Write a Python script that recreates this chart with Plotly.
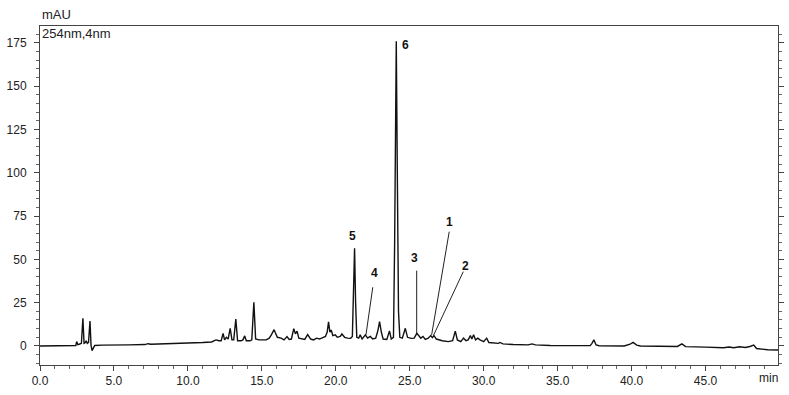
import plotly.graph_objects as go

# Chromatogram vertices (time in min, signal in mAU)
time_min = [
    0.0, 2.3, 2.42, 2.48, 2.56, 2.65, 2.8, 2.9, 2.98, 3.05, 3.12, 3.2, 3.28, 3.38, 3.45, 3.52, 3.6, 3.7,
    4.2, 5.0, 6.0, 7.1, 7.3, 7.5, 8.5, 9.5, 10.2, 11.0, 11.6, 11.9, 12.1, 12.25, 12.38, 12.48, 12.6,
    12.72, 12.86, 12.98, 13.1, 13.24, 13.36, 13.6, 13.72, 13.84, 13.95, 14.2, 14.32, 14.46, 14.58,
    14.8, 15.3, 15.5, 15.65, 15.83, 15.92, 16.05, 16.3, 16.5, 16.7, 16.85, 17.0, 17.16, 17.27, 17.38,
    17.5, 17.7, 17.9, 18.1, 18.3, 18.5, 18.7, 18.9, 19.1, 19.3, 19.42, 19.51, 19.6, 19.69, 19.8, 19.96,
    20.1, 20.3, 20.41, 20.6, 20.8, 21.0, 21.12, 21.2, 21.27, 21.34, 21.42, 21.55, 21.65, 21.78, 22.0,
    22.15, 22.33, 22.5, 22.7, 22.85, 22.96, 23.08, 23.2, 23.45, 23.63, 23.75, 23.9, 23.98, 24.03,
    24.09, 24.16, 24.24, 24.33, 24.5, 24.7, 24.85, 25.1, 25.3, 25.48, 25.6, 25.75, 25.9, 26.05, 26.25,
    26.42, 26.53, 26.64, 26.8, 27.2, 27.6, 27.9, 28.08, 28.22, 28.45, 28.64, 28.8, 28.95, 29.1, 29.2,
    29.32, 29.45, 29.6, 29.75, 30.0, 30.2, 30.35, 30.6, 31.0, 31.1, 31.3, 32.0, 33.0, 33.27, 33.5,
    34.5, 35.5, 37.2, 37.32, 37.45, 37.6, 37.8, 39.5, 39.9, 40.1, 40.35, 40.6, 42.5, 43.1, 43.4, 43.65,
    45.0, 46.2, 46.6, 46.9, 47.3, 47.7, 48.0, 48.26, 48.45, 48.8, 49.2, 49.9,
]
signal_mau = [
    0.0, 0.1, 0.3, 2.5, 0.8, 1.0, 1.5, 16.0, 1.5, 1.8, 3.0, 1.5, 2.0, 14.4, 0.5, -2.7, -1.5, 0.3,
    0.5, 0.4, 0.6, 0.8, 1.3, 1.0, 1.2, 1.6, 1.8, 2.0, 2.3, 3.5, 3.0, 3.0, 7.3, 3.5, 5.0,
    4.0, 10.2, 3.5, 3.5, 15.6, 3.0, 3.0, 3.5, 5.8, 3.0, 3.0, 3.5, 25.2, 4.0,
    3.5, 3.5, 4.5, 6.5, 9.4, 7.5, 5.0, 4.5, 3.5, 5.4, 3.8, 4.0, 10.0, 7.0, 8.5,
    4.5, 4.0, 3.8, 6.6, 4.0, 3.5, 4.5, 4.0, 5.0, 5.5, 8.0, 14.0, 8.0, 9.2, 6.0, 6.4,
    5.0, 5.5, 6.9, 5.0, 4.5, 4.4, 5.5, 30.0, 56.4, 25.0, 5.0, 4.5, 6.4, 4.0, 6.4,
    4.5, 5.5, 4.0, 4.5, 9.0, 14.0, 8.0, 4.0, 3.8, 8.7, 4.0, 5.0, 60.0, 122.0,
    176.0, 100.0, 20.0, 5.0, 4.5, 10.2, 5.0, 4.4, 4.5, 7.3, 6.3, 4.5, 5.5, 3.8, 4.5,
    6.0, 4.8, 6.0, 4.0, 3.0, 2.5, 3.0, 8.6, 3.5, 2.5, 4.5, 3.0, 3.5, 6.0, 4.0,
    6.5, 3.5, 4.5, 3.5, 2.5, 4.5, 2.0, 1.8, 1.5, 2.0, 1.2, 0.8, 0.6, 1.2, 0.6,
    0.3, 0.2, 0.2, 1.5, 3.5, 0.6, 0.1, 0.0, 1.0, 2.1, 0.5, 0.0, -0.3, -0.3, 1.2, -0.4,
    -0.7, -1.0, -0.6, -1.0, -0.5, -0.9, -0.3, 0.5, -1.5, -2.0, -2.2, -2.3,
]

x_tick_vals = [0, 5, 10, 15, 20, 25, 30, 35, 40, 45]
x_tick_text = ["0.0", "5.0", "10.0", "15.0", "20.0", "25.0", "30.0", "35.0", "40.0", "45.0"]
y_tick_vals = [0, 25, 50, 75, 100, 125, 150, 175]

# Peak labels: text, label position, leader-line end (peak)
peak_names = ["6", "5", "4", "3", "1", "2"]
label_pos = [(24.68, 174.0), (21.16, 63.5), (22.65, 42.2), (25.35, 50.8), (27.72, 71.6), (28.80, 46.2)]
leader_lines = {
    "4": ((22.50, 33.9), (22.04, 6.4)),
    "3": ((25.47, 43.5), (25.47, 7.3)),
    "1": ((27.67, 66.0), (26.48, 6.4)),
    "2": ((28.62, 42.9), (26.59, 5.8)),
}

font_family = "Liberation Sans, Arial, sans-serif"

fig = go.Figure()
fig.add_trace(go.Scatter(
    x=time_min, y=signal_mau, mode="lines",
    line=dict(color="#111111", width=1.4),
    hoverinfo="skip", showlegend=False,
))

for name, (lx, ly) in zip(peak_names, label_pos):
    fig.add_annotation(x=lx, y=ly, xref="x", yref="y", text=f"<b>{name}</b>",
                       showarrow=False, font=dict(family=font_family, size=12, color="#111"))

for name, ((x0, y0), (x1, y1)) in leader_lines.items():
    fig.add_shape(type="line", xref="x", yref="y", x0=x0, y0=y0, x1=x1, y1=y1,
                  line=dict(color="#222", width=1))

fig.add_annotation(x=0, y=1.035, xref="paper", yref="paper", text="mAU", showarrow=False,
                   xanchor="left", yanchor="middle", font=dict(family=font_family, size=13, color="#222"))
fig.add_annotation(x=0.0, y=0.979, xref="paper", yref="paper", text="254nm,4nm", showarrow=False,
                   xanchor="left", yanchor="middle", font=dict(family=font_family, size=13, color="#222"))
fig.add_annotation(x=1.003, y=-0.038, xref="paper", yref="paper", text="min", showarrow=False,
                   xanchor="right", yanchor="middle", font=dict(family=font_family, size=12, color="#222"))

fig.update_layout(
    width=789, height=395,
    margin=dict(l=40, r=11, t=26, b=30, autoexpand=False),
    paper_bgcolor="white", plot_bgcolor="white",
    font=dict(family=font_family, size=12, color="#222"),
)
fig.update_xaxes(
    range=[0, 49.9], tickvals=x_tick_vals, ticktext=x_tick_text, automargin=False,
    showgrid=False, zeroline=False, showline=True, linecolor="#444", linewidth=1, mirror=True,
    ticks="outside", ticklen=5, tickcolor="#444",
    minor=dict(dtick=1, tick0=0, ticks="outside", ticklen=3, tickcolor="#666"),
)
fig.update_yaxes(
    range=[-11, 184.8], tickvals=y_tick_vals, automargin=False, ticklabelstandoff=5,
    showgrid=False, zeroline=False, showline=True, linecolor="#444", linewidth=1, mirror="ticks",
    ticks="outside", ticklen=5, tickcolor="#444",
    minor=dict(dtick=5, tick0=0, ticks="outside", ticklen=3, tickcolor="#666"),
)

fig.write_html(
    "out.html",
    config={"responsive": False, "displayModeBar": False},
    post_script="document.body.style.margin='0';document.body.style.overflow='hidden';",
)
